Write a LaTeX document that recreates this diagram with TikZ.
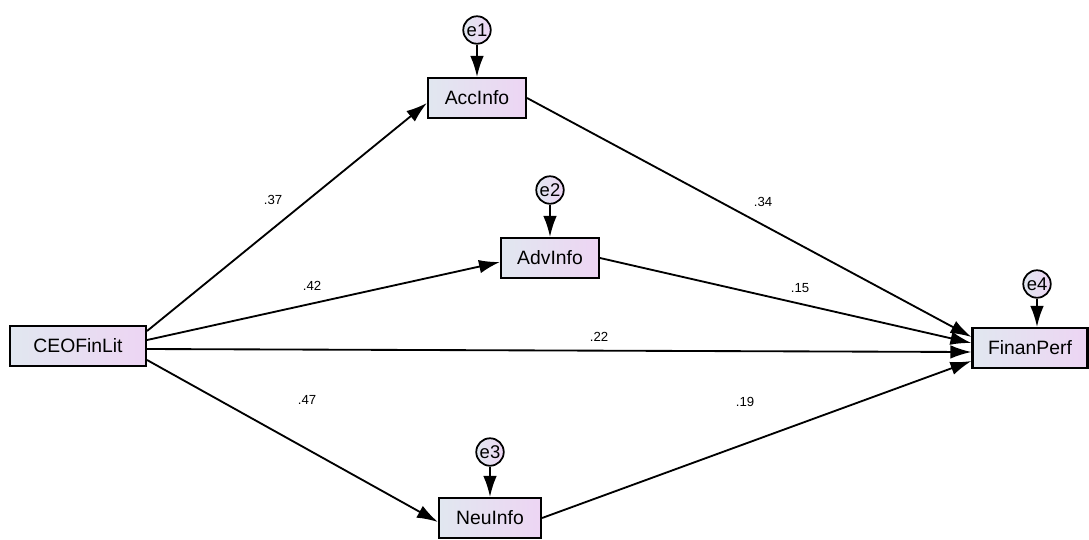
\documentclass[tikz,border=0pt]{standalone}
\usepackage{fontspec}
\setmainfont{Liberation Sans}
\usetikzlibrary{arrows.meta}

\definecolor{boxleft}{RGB}{225,231,240}
\definecolor{boxright}{RGB}{237,213,243}

\tikzset{
  varbox/.style={draw, line width=1.2pt, left color=boxleft, right color=boxright,
    minimum height=0.8cm, inner sep=0pt, font=\fontsize{11}{13}\selectfont},
  errcirc/.style={circle, draw, line width=1pt, left color=boxleft, right color=boxright,
    minimum size=0.55cm, inner sep=0pt, font=\fontsize{10.5}{12}\selectfont},
  effect/.style={line width=1.05pt, -{Latex[length=4.2mm,width=2.7mm]}},
  coef/.style={font=\fontsize{7.5}{9}\selectfont, inner sep=1pt}
}

\begin{document}
\begin{tikzpicture}[x=0.02cm, y=-0.02cm]
%\draw[help lines] (0,0) grid (1089,539);
\useasboundingbox (0,0) rectangle (1089,539);

% observed variables
\node[varbox, minimum width=2.72cm] at (78,346) (ceo) {CEOFinLit};
\node[varbox, minimum width=1.96cm] at (477,98) (acc) {AccInfo};
\node[varbox, minimum width=1.96cm] at (550,258) (adv) {AdvInfo};
\node[varbox, minimum width=2.04cm] at (490,518) (neu) {NeuInfo};
\node[varbox, minimum width=2.3cm] at (1030,348) (fin) {FinanPerf};

% error terms
\node[errcirc] at (477,30) (e1) {e1};
\node[errcirc] at (550,190) (e2) {e2};
\node[errcirc] at (490,452) (e3) {e3};
\node[errcirc] at (1037,284) (e4) {e4};

\draw[effect] (e1) -- (acc);
\draw[effect] (e2) -- (adv);
\draw[effect] (e3) -- (neu);
\draw[effect] (e4) -- (fin.north -| e4);

% paths
\draw[effect] ([yshift=0.3cm]ceo.east) -- ([yshift=-0.1cm]acc.west);
\draw[effect] ([yshift=0.12cm]ceo.east) -- ([yshift=-0.08cm]adv.west);
\draw[effect] ([yshift=-0.06cm]ceo.east) -- ([yshift=-0.08cm]fin.west);
\draw[effect] ([yshift=-0.28cm]ceo.east) -- ([yshift=-0.08cm]neu.west);
\draw[effect] (acc.east) -- ([yshift=0.22cm]fin.west);
\draw[effect] (adv.east) -- ([yshift=0.1cm]fin.west);
\draw[effect] (neu.east) -- ([yshift=-0.26cm]fin.west);

% coefficients
\node[coef] at (273,200) (c1) {.37};
\node[coef] at (312,286) (c2) {.42};
\node[coef] at (599,337) (c3) {.22};
\node[coef] at (307,400) (c4) {.47};
\node[coef] at (763,202) (c5) {.34};
\node[coef] at (800,288) (c6) {.15};
\node[coef] at (745,402) (c7) {.19};
\end{tikzpicture}
\end{document}
